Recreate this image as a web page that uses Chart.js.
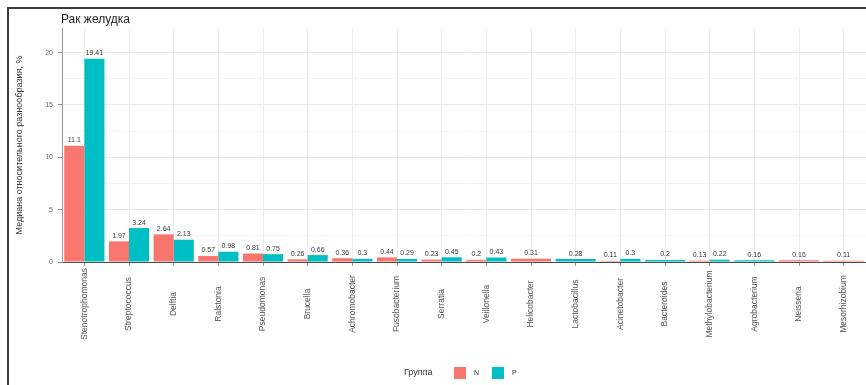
<!DOCTYPE html>
<html>
<head>
<meta charset="utf-8">
<script src="https://cdn.jsdelivr.net/npm/chart.js@4.4.1/dist/chart.umd.min.js"></script>
<style>
  html, body { margin: 0; padding: 0; background: #fff; }
  #wrap { position: relative; width: 866px; height: 385px; overflow: hidden; background: #fff; }
  #frame { position: absolute; left: 7px; top: 7px; width: 900px; height: 400px;
           border-left: 2px solid #3c3c3c; border-top: 2px solid #3c3c3c; pointer-events: none; }
  canvas { position: absolute; left: 0; top: 0; }
</style>
</head>
<body>
<div id="wrap">
  <canvas id="chart" width="866" height="385"></canvas>
  <div id="frame"></div>
</div>
<script>
// Genera on the x axis
const genera = [
  "Stenotrophomonas", "Streptococcus", "Delftia", "Ralstonia", "Pseudomonas",
  "Brucella", "Achromobacter", "Fusobacterium", "Serratia", "Veillonella",
  "Helicobacter", "Lactobacillus", "Acinetobacter", "Bacteroides",
  "Methylobacterium", "Agrobacterium", "Neisseria", "Mesorhizobium"
];
// Median relative abundance, %, group N (null = genus not found in the group)
const groupN = [11.1, 1.97, 2.64, 0.57, 0.81, 0.26, 0.36, 0.44, 0.23, 0.2,
                0.31, null, 0.11, null, 0.13, null, 0.16, 0.11];
// Median relative abundance, %, group P
const groupP = [19.41, 3.24, 2.13, 0.98, 0.75, 0.66, 0.3, 0.29, 0.45, 0.43,
                null, 0.28, 0.3, 0.2, 0.22, 0.16, null, null];
const yTickLabels = [0, 5, 10, 15, 20];
const groupNames = ["N", "P"];

const chartTitle = "Рак желудка";
const yTitle = "Медиана относительного разнообразия, %";
const legendTitle = "Группа";

const RED = "#F8766D";
const TEAL = "#00BFC4";
const FONT = "'Liberation Sans', Arial, sans-serif";

// Values written above every bar
const valueLabels = {
  id: "valueLabels",
  afterDatasetsDraw(chart) {
    const ctx = chart.ctx;
    ctx.save();
    ctx.font = "7px " + FONT;
    ctx.fillStyle = "#3a3a3a";
    ctx.textAlign = "center";
    ctx.textBaseline = "bottom";
    chart.data.datasets.forEach((ds, di) => {
      const meta = chart.getDatasetMeta(di);
      meta.data.forEach((bar, i) => {
        const v = ds.data[i];
        if (v === null || v === undefined) return;
        ctx.fillText(String(v), bar.x, bar.y - 2);
      });
    });
    ctx.restore();
  }
};

// Vertical category labels centred under each tick, plus title and legend
const decorations = {
  id: "decorations",
  afterDraw(chart) {
    const ctx = chart.ctx;
    const xs = chart.scales.x;
    ctx.save();
    ctx.font = "8.5px " + FONT;
    ctx.fillStyle = "#555";
    ctx.textAlign = "center";
    ctx.textBaseline = "middle";
    genera.forEach((g, i) => {
      const x = xs.getPixelForValue(i);
      ctx.save();
      ctx.translate(x, 304);
      ctx.rotate(-Math.PI / 2);
      ctx.fillText(g, 0, 0);
      ctx.restore();
    });

    // title
    ctx.font = "12px " + FONT;
    ctx.fillStyle = "#1e1e1e";
    ctx.textAlign = "left";
    ctx.fillText(chartTitle, 61, 20);

    // legend
    const ly = 373;
    ctx.font = "9px " + FONT;
    ctx.fillStyle = "#333";
    ctx.textAlign = "left";
    ctx.fillText(legendTitle, 404, ly);
    const colors = [RED, TEAL];
    const boxX = [454, 492];
    groupNames.forEach((name, k) => {
      ctx.fillStyle = colors[k];
      ctx.fillRect(boxX[k], ly - 6, 12, 12);
      ctx.fillStyle = "#333";
      ctx.font = "7px " + FONT;
      ctx.fillText(name, boxX[k] + 20, ly);
    });
    ctx.restore();
  }
};

new Chart(document.getElementById("chart"), {
  type: "bar",
  data: {
    labels: genera,
    datasets: [
      { label: groupNames[0], data: groupN, backgroundColor: RED, borderWidth: 0,
        skipNull: true, categoryPercentage: 0.9, barPercentage: 1.0 },
      { label: groupNames[1], data: groupP, backgroundColor: TEAL, borderWidth: 0,
        skipNull: true, categoryPercentage: 0.9, barPercentage: 1.0 }
    ]
  },
  options: {
    responsive: false,
    animation: false,
    devicePixelRatio: 1,
    layout: { padding: { top: 28, right: 0, bottom: 0, left: 0 } },
    plugins: {
      legend: { display: false },
      tooltip: { enabled: false },
      title: { display: false }
    },
    scales: {
      x: {
        offset: true,
        grid: {
          offset: false,
          color: "#ececec",
          lineWidth: 1,
          drawTicks: true,
          tickLength: 4,
          tickColor: "#9a9a9a"
        },
        border: { display: true, color: "#4a4a4a", width: 1 },
        ticks: { display: false },
        afterFit(s) { s.height = 123; }
      },
      y: {
        min: 0,
        max: 22.35,
        grid: {
          color: (c) => {
            const v = c.tick ? c.tick.value : 0;
            if (Math.abs(v % 5) < 1e-6) return "#e8e8e8";
            if (Math.abs(v % 2.5) < 1e-6) return "#f4f4f4";
            return "rgba(0,0,0,0)";
          },
          tickColor: (c) => {
            const v = c.tick ? c.tick.value : 0;
            return yTickLabels.includes(v) ? "#8a8a8a" : "rgba(0,0,0,0)";
          },
          tickLength: 4,
          lineWidth: 1
        },
        border: { display: true, color: "#9a9a9a", width: 1 },
        ticks: {
          stepSize: 2.5,
          padding: 5,
          color: "#6a6a6a",
          font: { size: 7, family: FONT },
          callback: (v) => yTickLabels.includes(v) ? String(v) : ""
        },
        title: {
          display: true,
          text: yTitle,
          color: "#333",
          font: { size: 9, family: FONT },
          padding: { top: 14, bottom: 0 }
        },
        afterFit(s) { s.width = 62; }
      }
    }
  },
  plugins: [valueLabels, decorations]
});
</script>
</body>
</html>
